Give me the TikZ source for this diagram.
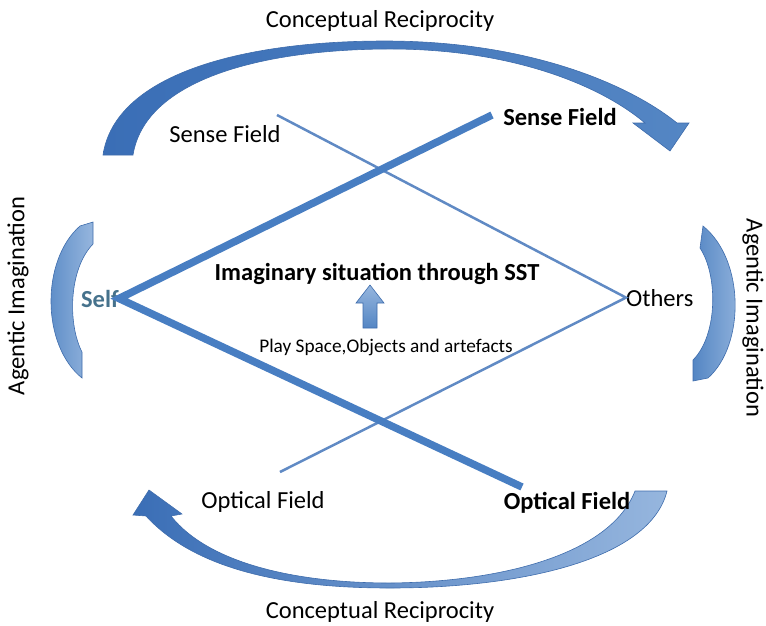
\documentclass[tikz,border=0pt]{standalone}
\usepackage{fontspec}
\setmainfont{Carlito}
\definecolor{fieldblue}{RGB}{72,126,194}
\definecolor{thinblue}{RGB}{96,138,196}
\definecolor{arrowdark}{RGB}{58,110,182}
\definecolor{arrowmid}{RGB}{84,134,196}
\definecolor{arrowlight}{RGB}{150,182,222}
\definecolor{arrowedge}{RGB}{62,108,172}
\definecolor{selfteal}{RGB}{70,114,140}
\tikzset{
  txt/.style={font=\fontsize{24.5}{29}\selectfont, inner sep=0pt},
  boldtxt/.style={txt, font=\fontsize{24.5}{29}\selectfont\bfseries},
  smalltxt/.style={txt, font=\fontsize{19.3}{23}\selectfont},
  thickfield/.style={fieldblue, line width=7.5pt, line join=miter},
  thinfield/.style={thinblue, line width=2.5pt, line join=miter},
  bigarrow/.style={draw=arrowedge, line width=0.6pt},
}
\begin{document}
\begin{tikzpicture}[x=1pt,y=-1pt]
    \useasboundingbox (0,0) rectangle (766,625);
    %% Top reciprocity arrow
    \draw[bigarrow, left color=arrowdark, right color=arrowmid]
        (103,155) .. controls (115,75) and (240,41) .. (385,41)
        .. controls (530,41) and (630,85) .. (677,123)
        -- (689,123) -- (670,151) -- (633,123) -- (645,123)
        .. controls (600,85) and (510,48) .. (385,49)
        .. controls (260,50) and (145,80) .. (133,155) -- cycle;
    \node[txt, anchor=base] (topcr) at (380,27) {Conceptual Reciprocity};
    %% Bottom reciprocity arrow
    \draw[bigarrow, left color=arrowdark, right color=arrowlight]
        (667,491) .. controls (650,560) and (520,588) .. (390,588)
        .. controls (300,588) and (200,575) .. (146,516)
        -- (133,515) -- (149,490) -- (182,514) -- (171,516)
        .. controls (210,565) and (300,583) .. (390,583)
        .. controls (500,582) and (610,555) .. (635,491) -- cycle;
    \node[txt, anchor=base] (botcr) at (380,618) {Conceptual Reciprocity};
    %% Agentic imagination arcs
    \draw[bigarrow, left color=arrowmid, right color=arrowlight]
        (80,226) -- (93,222) -- (93,244)
        .. controls (68,270) and (68,325) .. (82,352) -- (82,378)
        .. controls (41,345) and (41,260) .. cycle;
    \draw[bigarrow, left color=arrowmid, right color=arrowlight]
        (703,226) .. controls (745,260) and (745,345) .. (708,378)
        -- (693,381) -- (693,360)
        .. controls (718,335) and (718,275) .. (700,248) -- cycle;
    \node[txt, rotate=90] (leftai) at (18,296) {Agentic Imagination};
    \node[txt, rotate=-90] (rightai) at (753,318) {Agentic Imagination};
    %% Self and others
    \node[boldtxt, text=selfteal, anchor=base east] (self) at (119,307) {Self};
    \node[txt, anchor=base west] (others) at (626,306) {Others};
    \coordinate (sfthin) at (277,115);
    \coordinate (ofthin) at (280,472);
    \coordinate (sfthick) at (492,115);
    \coordinate (ofthick) at (522,487);
    \draw[thinfield] (sfthin) -- (others.west) -- (ofthin);
    \draw[thickfield] (sfthick) -- (self.east) -- (ofthick);
    %% Field labels
    \node[txt, anchor=base] (sfleft) at (225,142) {Sense Field};
    \node[boldtxt, anchor=base] (sfright) at (560,125) {Sense Field};
    \node[txt, anchor=base] (ofleft) at (263,508) {Optical Field};
    \node[boldtxt, anchor=base] (ofright) at (567,509) {Optical Field};
    %% Centre
    \node[boldtxt, anchor=base] (imag) at (377,280) {Imaginary situation through SST};
    \node[smalltxt, anchor=base] (play) at (386,352) {Play Space,Objects and artefacts};
    \draw[bigarrow, top color=arrowlight, bottom color=arrowmid]
        (363,328) -- (363,303) -- (356,303) -- (370,285) -- (384,303)
        -- (377,303) -- (377,328) -- cycle;
\end{tikzpicture}
\end{document}
